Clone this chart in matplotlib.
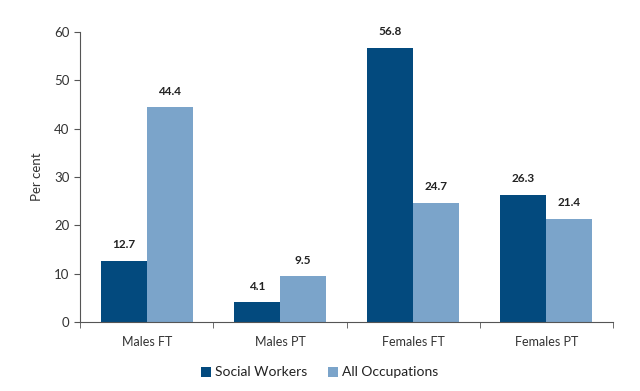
import numpy as np
import matplotlib.pyplot as plt

plt.rcParams['font.family'] = ['Lato', 'DejaVu Sans']

categorias = ['Males FT', 'Males PT', 'Females FT', 'Females PT']
social_workers = [12.7, 4.1, 56.8, 26.3]
all_occupations = [44.4, 9.5, 24.7, 21.4]

color_oscuro = '#034a7e'
color_claro = '#7ba4ca'

fig = plt.figure(figsize=(6.4, 3.91), dpi=100)
ax = fig.add_axes([0.125, 0.176, 0.833, 0.742])

x = np.arange(len(categorias))
ancho = 0.345
b1 = ax.bar(x - ancho/2, social_workers, ancho, color=color_oscuro, label='Social Workers')
b2 = ax.bar(x + ancho/2, all_occupations, ancho, color=color_claro, label='All Occupations')

for barras in (b1, b2):
    for b in barras:
        ax.text(b.get_x() + b.get_width()/2, b.get_height() + 2.2,
                '{:.1f}'.format(b.get_height()), ha='center', va='bottom',
                fontsize=8.5, fontweight='bold', color='#222222')

ax.set_xlim(-0.5, len(categorias) - 0.5)
ax.set_ylim(0, 60)
ax.set_yticks(range(0, 61, 10))
ax.set_xticks(x)
ax.set_xticklabels(categorias, fontsize=9, color='#333333')
ax.set_xticks(np.arange(-0.5, len(categorias)), minor=True)
ax.tick_params(axis='x', which='major', length=0, pad=10)
ax.tick_params(axis='x', which='minor', length=4, direction='out', color='#555555')
ax.tick_params(axis='y', length=4, direction='out', labelsize=9.5, color='#555555', labelcolor='#333333')
ax.set_ylabel('Per cent', fontsize=9.5, color='#333333', labelpad=8)

for lado in ('top', 'right'):
    ax.spines[lado].set_visible(False)
for lado in ('left', 'bottom'):
    ax.spines[lado].set_color('#555555')

fig.legend(loc='lower center', bbox_to_anchor=(0.5, 0.0), ncol=2, frameon=False,
           fontsize=10, handlelength=0.7, handleheight=0.7, handletextpad=0.3,
           columnspacing=1.5, labelcolor='#222222')

fig.savefig('out.png', dpi=100)
